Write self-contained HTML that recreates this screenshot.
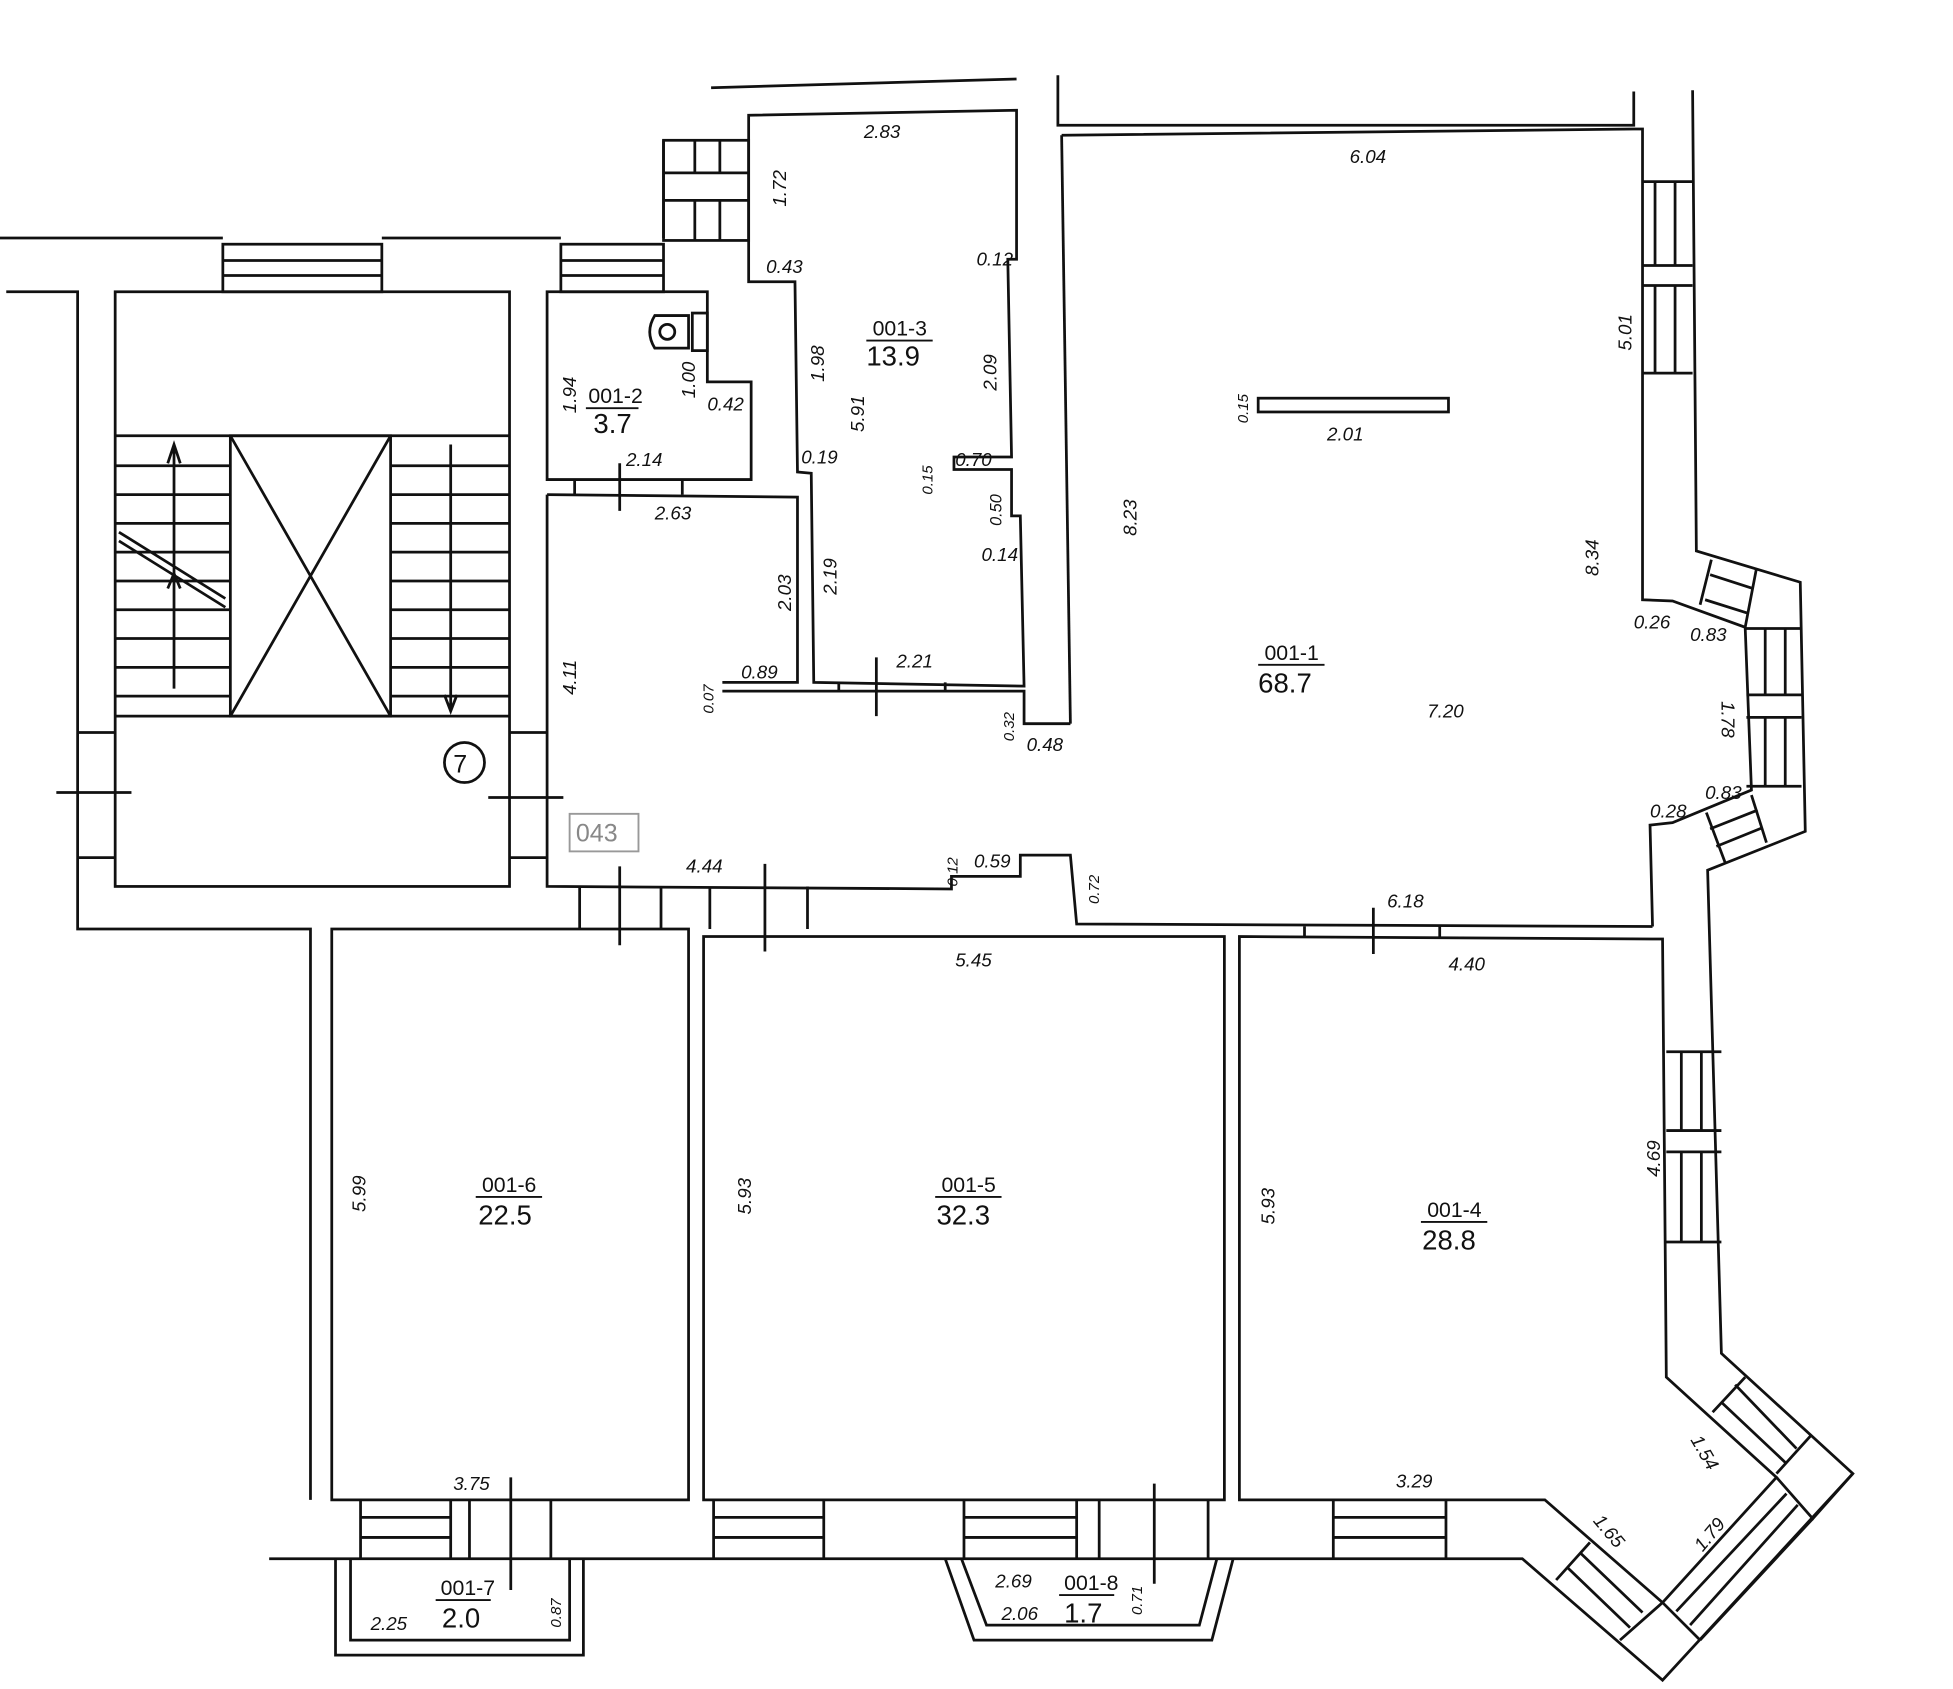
<!DOCTYPE html>
<html><head><meta charset="utf-8"><style>
html,body{margin:0;padding:0;background:#fff;}
svg{display:block}
text{font-family:"Liberation Sans",sans-serif;fill:#111;}
.d{font-size:15px;font-style:italic}
.n{font-size:17px}
.a{font-size:22px}
</style></head><body>
<svg width="1953" height="1689" viewBox="0 0 1560 1349" xmlns="http://www.w3.org/2000/svg">
<g fill="none" stroke="#111" stroke-width="2.2">
<path d="M568 70 L812 63"/>
<path d="M845 60 L845 100 L1305 100 L1305 73"/>
<!-- outer right wall -->
<path d="M1352 72 L1355 440 L1438 465 L1442 664 L1364 695 L1375 1081 L1480 1177 L1328 1342 L1216 1245 L215 1245"/>
<!-- left top walls -->
<path d="M0 190 L178 190 M305 190 L448 190 M530 190 L530 112"/>
<path d="M5 233 L62 233 L62 742 L248 742 L248 1198"/>
<rect x="178" y="195" width="127" height="38"/>
<path d="M178 208 H305 M178 220 H305"/>
<rect x="448" y="195" width="82" height="38"/>
<path d="M448 208 H530 M448 220 H530"/>
<rect x="530" y="112" width="68" height="80"/>
<path d="M530 138 H598 M530 160 H598 M555 112 V138 M575 112 V138 M555 160 V192 M575 160 V192"/>
<!-- stair box -->
<rect x="92" y="233" width="315" height="475"/>
<path d="M92 348 H407 M92 572 H407"/>
<rect x="184" y="348" width="128" height="224"/>
<path d="M184 348 L312 572 M312 348 L184 572"/>
<path d="M92 372 H184 M92 395 H184 M92 418 H184 M92 441 H184 M92 464 H184 M92 487 H184 M92 510 H184 M92 533 H184 M92 556 H184"/>
<path d="M312 372 H407 M312 395 H407 M312 418 H407 M312 441 H407 M312 464 H407 M312 487 H407 M312 510 H407 M312 533 H407 M312 556 H407"/>
<path d="M95 425 L180 478 M95 432 L180 485"/>
<path d="M139 355 V550 M134 370 L139 355 L144 370 M134 470 L139 458 L144 470"/>
<path d="M360 355 V568 M355 555 L360 568 L365 555"/>
<circle cx="371" cy="609" r="16"/>
<path d="M62 585 H92 M62 685 H92 M407 585 H437 M407 685 H437"/>
<path d="M45 633 H105 M390 637 H450"/>
<!-- 001-2 -->
<path d="M437 233 L565 233 L565 305 L600 305 L600 383 L437 383 Z"/>
<path d="M523 252 Q515 265 523 278 L550 278 L550 252 Z"/><circle cx="533" cy="265" r="6"/>
<rect x="553" y="250" width="12" height="30"/>
<path d="M459 383 V395 M495 383 V395 M545 383 V395 M495 370 V408"/>
<!-- corridor 043 -->
<path d="M437 395 L637 397 L637 545 L577 545 M577 552 L818 552 L818 578 L855 578"/>
<path d="M437 395 L437 708 L760 710 L760 700 L815 700 L815 683 L855 683 L860 738 L1320 740"/>
<path d="M463 708 V742 M528 708 V742 M567 708 V742 M645 708 V742 M495 692 V755 M611 690 V760"/>
<rect x="455" y="650" width="55" height="30" stroke="#999" stroke-width="1.5"/>
<!-- 001-3 -->
<path d="M598 92 L812 88 L812 207 L805 207 L808 365 L762 365 L762 375 L808 375 L808 412 L815 412 L818 548 L650 545 L648 378 L637 377 L635 225 L598 225 Z"/>
<path d="M670 545 V552 M755 545 V552 M700 525 V572"/>
<!-- 001-1 -->
<path d="M848 108 L1305 103 L1312 103 L1312 479 L1336 480 L1394 501 L1399 631 L1336 657 L1318 659 L1320 740"/>
<path d="M848 108 L855 578"/>
<rect x="1005" y="318" width="152" height="11"/>
<path d="M1312 145 H1352 M1312 212 H1352 M1312 228 H1352 M1312 298 H1352 M1322 145 V212 M1338 145 V212 M1322 228 V298 M1338 228 V298"/>
<!-- right bay windows -->
<path d="M1367 447 L1358 483 M1403 454 L1394 501 M1366 459 L1400 470 M1362 479 L1397 490"/>
<path d="M1395 502 H1439 M1395 555 H1439 M1395 573 H1439 M1395 628 H1439 M1410 502 V555 M1426 502 V555 M1410 573 V628 M1426 573 V628"/>
<path d="M1399 635 L1411 673 M1363 649 L1378 689 M1366 662 L1404 647 M1371 676 L1408 661"/>
<path d="M1042 740 V748 M1150 740 V748 M1097 725 V762"/>
<!-- lower rooms -->
<rect x="265" y="742" width="285" height="456"/>
<rect x="562" y="748" width="416" height="450"/>
<path d="M990 748 L1328 750 L1331 1100 L1419 1180 L1328 1280 L1234 1198 L990 1198 Z"/>
<path d="M1331 840 H1375 M1331 903 H1375 M1331 920 H1375 M1331 992 H1375 M1343 840 V903 M1359 840 V903 M1343 920 V992 M1359 920 V992"/>
<!-- lower right bay -->
<path d="M1394 1100 L1368 1128 M1386 1106 L1435 1157 M1375 1120 L1427 1169"/>
<path d="M1419 1177 L1447 1146 M1419 1180 L1448 1213 L1480 1177"/>
<path d="M1448 1213 L1358 1310 M1339 1287 L1427 1193 M1350 1298 L1436 1202"/>
<path d="M1328 1280 L1358 1310 M1328 1280 L1294 1310"/>
<path d="M1270 1232 L1243 1262 M1263 1241 L1312 1288 M1252 1252 L1302 1300"/>
<!-- bottom windows -->
<path d="M288 1198 V1245 M360 1198 V1245 M375 1198 V1245 M440 1198 V1245 M288 1212 H360 M288 1228 H360"/>
<path d="M570 1198 V1245 M658 1198 V1245 M570 1212 H658 M570 1228 H658"/>
<path d="M770 1198 V1245 M860 1198 V1245 M878 1198 V1245 M965 1198 V1245 M770 1212 H860 M770 1228 H860"/>
<path d="M1065 1198 V1245 M1155 1198 V1245 M1065 1212 H1155 M1065 1228 H1155"/>
<path d="M408 1180 V1270 M922 1185 V1265"/>
<!-- balconies -->
<path d="M268 1245 V1322 H466 V1245 M280 1245 V1310 H455 V1245"/>
<path d="M755 1245 L778 1310 L968 1310 L985 1245 M768 1245 L788 1298 L958 1298 L972 1245"/>
</g>
<g>
<text class="d" x="690" y="110">2.83</text>
<text class="d" x="1078" y="130">6.04</text>
<text class="d" x="612" y="218">0.43</text>
<text class="d" x="780" y="212">0.12</text>
<text class="d" x="565" y="328">0.42</text>
<text class="d" x="640" y="370">0.19</text>
<text class="d" x="763" y="372">0.70</text>
<text class="d" x="500" y="372">2.14</text>
<text class="d" x="523" y="415">2.63</text>
<text class="d" x="784" y="448">0.14</text>
<text class="d" x="716" y="533">2.21</text>
<text class="d" x="592" y="542">0.89</text>
<text class="d" x="1060" y="352">2.01</text>
<text class="d" x="1140" y="573">7.20</text>
<text class="d" x="1305" y="502">0.26</text>
<text class="d" x="1350" y="512">0.83</text>
<text class="d" x="1318" y="653">0.28</text>
<text class="d" x="1362" y="638">0.83</text>
<text class="d" x="778" y="693">0.59</text>
<text class="d" x="820" y="600">0.48</text>
<text class="d" x="548" y="697">4.44</text>
<text class="d" x="1108" y="725">6.18</text>
<text class="d" x="1157" y="775">4.40</text>
<text class="d" x="763" y="772">5.45</text>
<text class="d" x="362" y="1190">3.75</text>
<text class="d" x="1115" y="1188">3.29</text>
<text class="d" x="296" y="1302">2.25</text>
<text class="d" x="795" y="1268">2.69</text>
<text class="d" x="800" y="1294">2.06</text>
<g class="d">
<text transform="translate(628,165) rotate(-90)">1.72</text>
<text transform="translate(460,330) rotate(-90)">1.94</text>
<text transform="translate(555,318) rotate(-90)">1.00</text>
<text transform="translate(658,305) rotate(-90)">1.98</text>
<text transform="translate(690,345) rotate(-90)">5.91</text>
<text transform="translate(796,312) rotate(-90)">2.09</text>
<text transform="translate(997,338) rotate(-90)" style="font-size:12px">0.15</text>
<text transform="translate(745,395) rotate(-90)" style="font-size:12px">0.15</text>
<text transform="translate(800,420) rotate(-90)" style="font-size:13px">0.50</text>
<text transform="translate(632,488) rotate(-90)">2.03</text>
<text transform="translate(668,475) rotate(-90)">2.19</text>
<text transform="translate(460,555) rotate(-90)">4.11</text>
<text transform="translate(570,570) rotate(-90)" style="font-size:12px">0.07</text>
<text transform="translate(810,592) rotate(-90)" style="font-size:12px">0.32</text>
<text transform="translate(765,708) rotate(-90)" style="font-size:12px">0.12</text>
<text transform="translate(878,722) rotate(-90)" style="font-size:12px">0.72</text>
<text transform="translate(908,428) rotate(-90)">8.23</text>
<text transform="translate(1277,460) rotate(-90)">8.34</text>
<text transform="translate(1303,280) rotate(-90)">5.01</text>
<text transform="translate(1375,560) rotate(90)">1.78</text>
<text transform="translate(292,968) rotate(-90)">5.99</text>
<text transform="translate(600,970) rotate(-90)">5.93</text>
<text transform="translate(1018,978) rotate(-90)">5.93</text>
<text transform="translate(1326,940) rotate(-90)">4.69</text>
<text transform="translate(1350,1150) rotate(60)">1.54</text>
<text transform="translate(1272,1215) rotate(50)">1.65</text>
<text transform="translate(1360,1240) rotate(-50)">1.79</text>
<text transform="translate(448,1300) rotate(-90)" style="font-size:12px">0.87</text>
<text transform="translate(912,1290) rotate(-90)" style="font-size:12px">0.71</text>
</g>
<text class="n" x="697" y="268">001-3</text><path d="M692 272 H745" stroke="#111" stroke-width="1.5"/>
<text class="a" x="692" y="292">13.9</text>
<text class="n" x="470" y="322">001-2</text><path d="M468 326 H510" stroke="#111" stroke-width="1.5"/>
<text class="a" x="474" y="346">3.7</text>
<text class="n" x="1010" y="527">001-1</text><path d="M1005 531 H1058" stroke="#111" stroke-width="1.5"/>
<text class="a" x="1005" y="553">68.7</text>
<text class="n" x="385" y="952">001-6</text><path d="M380 956 H433" stroke="#111" stroke-width="1.5"/>
<text class="a" x="382" y="978">22.5</text>
<text class="n" x="752" y="952">001-5</text><path d="M747 956 H800" stroke="#111" stroke-width="1.5"/>
<text class="a" x="748" y="978">32.3</text>
<text class="n" x="1140" y="972">001-4</text><path d="M1135 976 H1188" stroke="#111" stroke-width="1.5"/>
<text class="a" x="1136" y="998">28.8</text>
<text class="n" x="352" y="1274">001-7</text><path d="M348 1278 H392" stroke="#111" stroke-width="1.5"/>
<text class="a" x="353" y="1300">2.0</text>
<text class="n" x="850" y="1270">001-8</text><path d="M846 1274 H890" stroke="#111" stroke-width="1.5"/>
<text class="a" x="850" y="1296">1.7</text>
<text x="362" y="617" style="font-size:20px">7</text>
<text x="460" y="672" style="font-size:20px;fill:#888">043</text>
</g>
</svg>
</body></html>
